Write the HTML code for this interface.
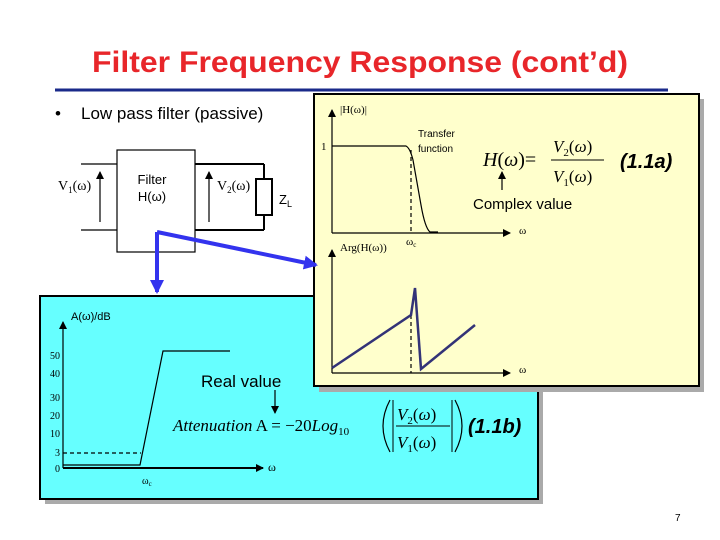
<!DOCTYPE html>
<html><head><style>
body{margin:0;width:720px;height:540px;background:#fff;overflow:hidden}
svg{display:block}
.s{font-family:"Liberation Sans",sans-serif}
.r{font-family:"Liberation Serif",serif}
</style></head><body>
<svg width="720" height="540" xmlns="http://www.w3.org/2000/svg">
<defs>
<marker id="a" markerWidth="8" markerHeight="8" refX="7" refY="4" orient="auto" markerUnits="userSpaceOnUse"><path d="M0,0 L8,4 L0,8z" fill="#000"/></marker>
<marker id="b" markerWidth="14" markerHeight="14" refX="12" refY="7" orient="auto" markerUnits="userSpaceOnUse"><path d="M0,0 L14,7 L0,14z" fill="#3333ee"/></marker>
</defs>
<text x="360" y="72" text-anchor="middle" class="s" font-size="30" font-weight="bold" fill="#e8262a" textLength="536" lengthAdjust="spacingAndGlyphs">Filter Frequency Response (cont’d)</text>
<line x1="55" y1="90" x2="668" y2="90" stroke="#1a2a8a" stroke-width="3"/>
<text x="55" y="119" class="s" font-size="17">•</text>
<text x="81" y="119" class="s" font-size="17">Low pass filter (passive)</text>
<!-- circuit -->
<g stroke="#000" stroke-width="1.2" fill="none">
<rect x="117" y="150" width="78" height="102"/>
<line x1="81" y1="164" x2="117" y2="164"/><line x1="81" y1="230" x2="117" y2="230"/>
<line x1="195" y1="164" x2="264" y2="164" stroke-width="2"/><line x1="195" y1="230" x2="264" y2="230" stroke-width="2"/>
<line x1="264" y1="164" x2="264" y2="179" stroke-width="2"/><line x1="264" y1="215" x2="264" y2="230" stroke-width="2"/>
<rect x="256" y="179" width="16" height="36" stroke-width="2"/>
<line x1="100" y1="222" x2="100" y2="172" marker-end="url(#a)"/>
<line x1="209" y1="222" x2="209" y2="172" marker-end="url(#a)"/>
</g>
<text x="58" y="190" class="r" font-size="14">V<tspan font-size="9" dy="3">1</tspan><tspan dy="-3">(ω)</tspan></text>
<text x="217" y="190" class="r" font-size="14">V<tspan font-size="9" dy="3">2</tspan><tspan dy="-3">(ω)</tspan></text>
<text x="279" y="204" class="s" font-size="13">Z<tspan font-size="9" dy="3">L</tspan></text>
<text x="152" y="184" text-anchor="middle" class="s" font-size="13">Filter</text>
<text x="152" y="201" text-anchor="middle" class="s" font-size="13">H(ω)</text>
<!-- cyan box -->
<rect x="45" y="301" width="498" height="203" fill="#aaa"/>
<rect x="40" y="296" width="498" height="203" fill="#66ffff" stroke="#000" stroke-width="2"/>
<g stroke="#000" stroke-width="1.2" fill="none">
<line x1="63" y1="468" x2="63" y2="322" marker-end="url(#a)"/>
<line x1="63" y1="468" x2="263" y2="468" stroke-width="2" marker-end="url(#a)"/>
<polyline points="63,465 140,465 163,351 230,351"/>
<line x1="63" y1="453" x2="141" y2="453" stroke-dasharray="4,3"/>
<line x1="275" y1="390" x2="275" y2="413" marker-end="url(#a)"/>
</g>
<text x="71" y="320" class="s" font-size="11">A(ω)/dB</text>
<g class="r" font-size="10" text-anchor="end">
<text x="60" y="359">50</text><text x="60" y="377">40</text><text x="60" y="401">30</text><text x="60" y="419">20</text><text x="60" y="437">10</text><text x="60" y="456">3</text><text x="60" y="472">0</text>
</g>
<text x="142" y="484" class="r" font-size="10">ω<tspan font-size="7" dy="2">c</tspan></text>
<text x="268" y="471" class="r" font-size="12">ω</text>
<text x="201" y="387" class="s" font-size="17">Real value</text>
<text x="173" y="431" class="r" font-size="17"><tspan font-style="italic">Attenuation</tspan> A = −20<tspan font-style="italic">Log</tspan><tspan font-size="11" dy="4">10</tspan></text>
<path d="M390,400 Q376,426 390,452" fill="none" stroke="#000" stroke-width="1.2"/>
<line x1="393" y1="400" x2="393" y2="452" stroke="#000"/>
<text x="397" y="420" class="r" font-size="17"><tspan font-style="italic">V</tspan><tspan font-size="11" dy="4">2</tspan><tspan dy="-4">(</tspan><tspan font-style="italic">ω</tspan>)</text>
<line x1="396" y1="426" x2="450" y2="426" stroke="#000"/>
<text x="397" y="448" class="r" font-size="17"><tspan font-style="italic">V</tspan><tspan font-size="11" dy="4">1</tspan><tspan dy="-4">(</tspan><tspan font-style="italic">ω</tspan>)</text>
<line x1="452" y1="400" x2="452" y2="452" stroke="#000"/>
<path d="M455,400 Q469,426 455,452" fill="none" stroke="#000" stroke-width="1.2"/>
<text x="468" y="433" class="s" font-size="20" font-weight="bold" font-style="italic">(1.1b)</text>
<!-- yellow box -->
<rect x="319" y="99" width="385" height="293" fill="#aaa"/>
<rect x="314" y="94" width="385" height="292" fill="#ffffcc" stroke="#000" stroke-width="2"/>
<g stroke="#000" stroke-width="1.2" fill="none">
<line x1="332" y1="233" x2="332" y2="110" marker-end="url(#a)"/>
<line x1="332" y1="233" x2="510" y2="233" marker-end="url(#a)"/>
<path d="M332,146 L406,146 Q410,148 413,160 L421,205 Q425,228 430,232 L438,232"/>
<line x1="411" y1="150" x2="411" y2="233" stroke-dasharray="4,3"/>
<line x1="332" y1="373" x2="332" y2="250" marker-end="url(#a)"/>
<line x1="332" y1="373" x2="510" y2="373" marker-end="url(#a)"/>
<line x1="411" y1="315" x2="411" y2="373" stroke-dasharray="4,3"/>
<line x1="502" y1="190" x2="502" y2="172" marker-end="url(#a)"/>
</g>
<polyline points="332,368 411,315 415,288 421,369 475,325" fill="none" stroke="#333377" stroke-width="2.5"/>
<text x="340" y="113" class="r" font-size="11">|H(ω)|</text>
<text x="321" y="150" class="r" font-size="11">1</text>
<text x="418" y="137" class="s" font-size="10">Transfer</text>
<text x="418" y="152" class="s" font-size="10">function</text>
<text x="406" y="245" class="r" font-size="11">ω<tspan font-size="7" dy="2">c</tspan></text>
<text x="340" y="251" class="r" font-size="11">Arg(H(ω))</text>
<text x="519" y="234" class="r" font-size="11">ω</text>
<text x="519" y="373" class="r" font-size="11">ω</text>
<text x="483" y="166" class="r" font-size="20" font-style="italic">H<tspan font-style="normal">(</tspan>ω<tspan font-style="normal">)=</tspan></text>
<text x="553" y="152" class="r" font-size="17" font-style="italic">V<tspan font-size="11" dy="4" font-style="normal">2</tspan><tspan dy="-4" font-style="normal">(</tspan>ω<tspan font-style="normal">)</tspan></text>
<line x1="551" y1="160" x2="604" y2="160" stroke="#000"/>
<text x="553" y="182" class="r" font-size="17" font-style="italic">V<tspan font-size="11" dy="4" font-style="normal">1</tspan><tspan dy="-4" font-style="normal">(</tspan>ω<tspan font-style="normal">)</tspan></text>
<text x="620" y="168" class="s" font-size="20" font-weight="bold" font-style="italic">(1.1a)</text>
<text x="473" y="209" class="s" font-size="15">Complex value</text>
<!-- blue arrows -->
<g stroke="#3333ee" stroke-width="4" fill="none">
<line x1="157" y1="232" x2="157" y2="292" marker-end="url(#b)"/>
<line x1="157" y1="232" x2="316" y2="265" marker-end="url(#b)"/>
</g>
<text x="675" y="521" class="s" font-size="10">7</text>
</svg>
</body></html>
